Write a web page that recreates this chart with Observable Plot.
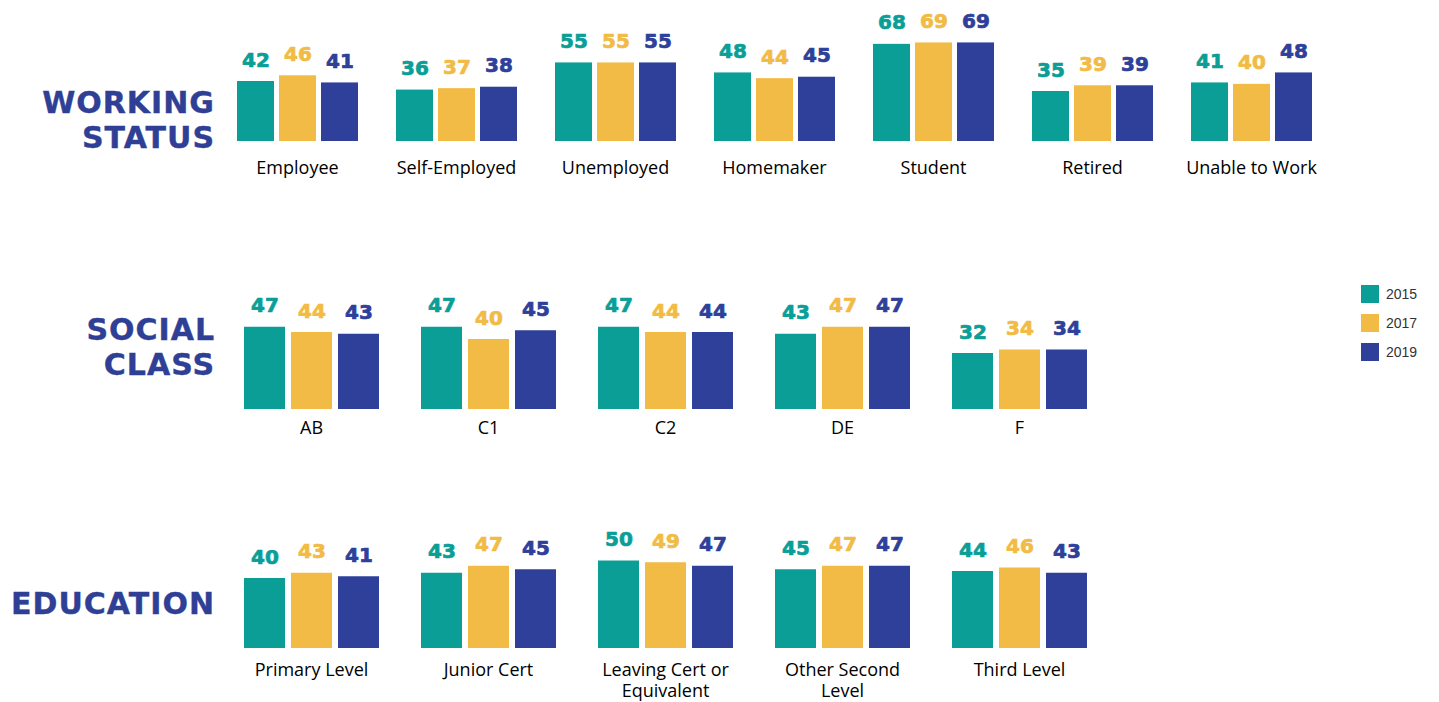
<!DOCTYPE html>
<html>
<head>
<meta charset="utf-8">
<script src="https://cdn.jsdelivr.net/npm/d3@7"></script>
<script src="https://cdn.jsdelivr.net/npm/@observablehq/plot@0.6"></script>
<style>
  html, body { margin: 0; padding: 0; background: #ffffff; }
  #wrap { position: relative; width: 1439px; height: 702px; overflow: hidden; background: #fff; }
  .row { position: absolute; left: 0; }
  .title { position: absolute; right: 1224px; text-align: right; font-family: "DejaVu Sans", sans-serif; font-weight: bold; font-size: 30px; line-height: 35px; letter-spacing: 1px; color: #2e3f95; white-space: nowrap; -webkit-text-stroke: 0.4px #2e3f95; }
  .legend { position: absolute; left: 1361px; font-family: "Liberation Sans", Arial, sans-serif; font-size: 14px; color: #333; }
  .legend .item { position: absolute; left: 0; width: 80px; height: 18px; }
  .legend .sw { position: absolute; left: 0; top: 0; width: 18px; height: 18px; }
  .legend .lb { position: absolute; left: 25px; top: 0; line-height: 18px; }
</style>
</head>
<body>
<div id="wrap"></div>
<script>
// ---- data ----
const years = ["2015", "2017", "2019"];
const yearColors = ["#0a9e97", "#f1bb45", "#2e409a"];

const workingCats = ["Employee", "Self-Employed", "Unemployed", "Homemaker", "Student", "Retired", "Unable to Work"];
const working2015 = [42, 36, 55, 48, 68, 35, 41];
const working2017 = [46, 37, 55, 44, 69, 39, 40];
const working2019 = [41, 38, 55, 45, 69, 39, 48];

const socialCats = ["AB", "C1", "C2", "DE", "F"];
const social2015 = [47, 47, 47, 43, 32];
const social2017 = [44, 40, 44, 47, 34];
const social2019 = [43, 45, 44, 47, 34];

const eduCats = ["Primary Level", "Junior Cert", "Leaving Cert or\nEquivalent", "Other Second\nLevel", "Third Level"];
const edu2015 = [40, 43, 50, 45, 44];
const edu2017 = [43, 47, 49, 47, 46];
const edu2019 = [41, 45, 47, 47, 43];

function table(cats, s15, s17, s19) {
  const series = [s15, s17, s19];
  const rows = [];
  cats.forEach((c, i) => years.forEach((y, j) => rows.push({cat: c, year: y, value: series[j][i]})));
  return rows;
}

const wrap = document.getElementById("wrap");

function row(cats, data, cfg) {
  const chart = Plot.plot({
    width: 1439,
    height: cfg.height,
    marginLeft: cfg.marginLeft,
    marginRight: cfg.marginRight,
    marginTop: cfg.marginTop,
    marginBottom: cfg.marginBottom,
    style: {fontFamily: "'Open Sans', sans-serif", fontSize: "18px", color: "#000", background: "transparent"},
    fx: {domain: cats, paddingInner: cfg.fxPad, paddingOuter: 0, label: null},
    x: {domain: years, paddingInner: cfg.xPad, paddingOuter: 0, axis: null},
    y: {domain: cfg.yDomain, axis: null},
    color: {domain: years, range: yearColors},
    marks: [
      Plot.barY(data, {fx: "cat", x: "year", y: "value", fill: "year"}),
      Plot.text(data, {fx: "cat", x: "year", y: "value", text: d => String(d.value), fill: "year",
        stroke: "year", strokeWidth: 0.7,
        lineAnchor: "bottom", dy: -15, fontFamily: "DejaVu Sans", fontWeight: "bold", fontSize: 20}),
      Plot.axisFx({anchor: "bottom", tickSize: 0, tickPadding: cfg.tickPadding, label: null,
        fontSize: 18, lineHeight: 1.2, fill: "#000"})
    ]
  });
  chart.classList.add("row");
  chart.style.top = cfg.top + "px";
  wrap.appendChild(chart);
}

row(workingCats, table(workingCats, working2015, working2017, working2019), {
  top: 0, height: 200, marginTop: 41, marginBottom: 59, marginLeft: 236, marginRight: 127,
  fxPad: 0.233, xPad: 0.13, yDomain: [0, 70], tickPadding: 17
});
row(socialCats, table(socialCats, social2015, social2017, social2019), {
  top: 240, height: 220, marginTop: 64, marginBottom: 51, marginLeft: 241, marginRight: 349,
  fxPad: 0.23, xPad: 0.135, yDomain: [0, 60], tickPadding: 9
});
row(eduCats, table(eduCats, edu2015, edu2017, edu2019), {
  top: 480, height: 222, marginTop: 63, marginBottom: 54, marginLeft: 241, marginRight: 349,
  fxPad: 0.23, xPad: 0.135, yDomain: [0, 60], tickPadding: 12
});

// row titles
const titles = [["WORKING<br>STATUS", 85], ["SOCIAL<br>CLASS", 312], ["EDUCATION", 586]];
titles.forEach(([t, top]) => {
  const d = document.createElement("div");
  d.className = "title";
  d.style.top = top + "px";
  d.innerHTML = t;
  wrap.appendChild(d);
});

// legend
const leg = document.createElement("div");
leg.className = "legend";
leg.style.top = "285px";
years.forEach((y, i) => {
  const it = document.createElement("div");
  it.className = "item";
  it.style.top = (i * 29) + "px";
  it.innerHTML = `<div class="sw" style="background:${yearColors[i]}"></div><div class="lb">${y}</div>`;
  leg.appendChild(it);
});
wrap.appendChild(leg);
</script>
</body>
</html>
